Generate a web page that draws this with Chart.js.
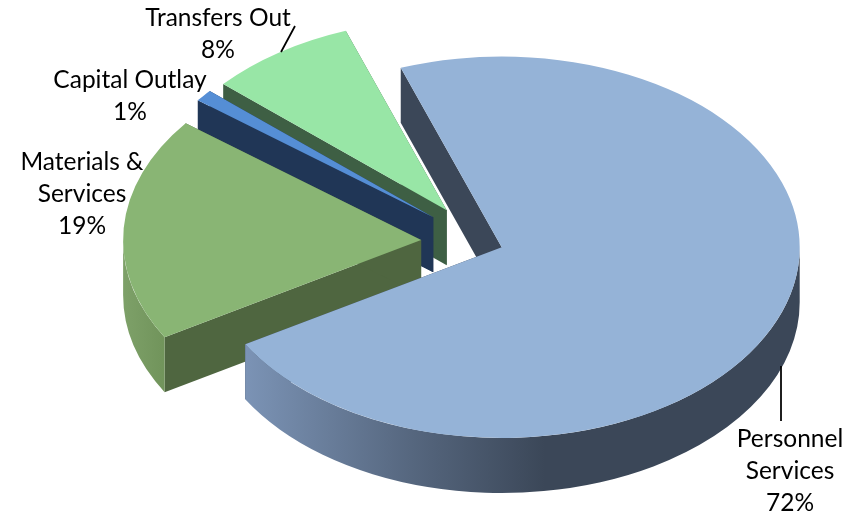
<!DOCTYPE html>
<html>
<head>
<meta charset="utf-8">
<title>Expenditures by category</title>
<script src="https://cdn.jsdelivr.net/npm/chart.js@4"></script>
<style>
    html, body { margin: 0; background: #ffffff; }
    canvas { display: block; }
</style>
</head>
<body>
<canvas id="mychart" width="867" height="516"></canvas>
<script>
// Share of spending per category, going clockwise
const categories = ['Personnel Services', 'Materials & Services', 'Capital Outlay', 'Transfers Out'];
const shares = [72, 19, 1, 8];

// Label lines for each category
const labelLines = [['Personnel', 'Services'], ['Materials &', 'Services'], ['Capital Outlay'], ['Transfers Out']];

const topColors = ['#95b3d7', '#89b574', '#558ed5', '#98e6a6'];
const wallColors = ['#3b4758', '#4f6640', '#203656', '#3e5f44'];

// How far each slice is pulled out of the pie
const explode = [22, 60, 62, 61];

const TILT = 0.64;     // vertical squash of the pie
const DEPTH = 55;      // thickness in px
const paintOrder = [3, 2, 1, 0];  // back to front

// rim shading runs left to right, lighter on the lit side
function rimFill(ctx, i) {
    if (i === 0) {
        const g = ctx.createLinearGradient(246, 0, 545, 0);
        g.addColorStop(0, '#7b93b5');
        g.addColorStop(0.55, '#56677f');
        g.addColorStop(1, '#3b4758');
        return g;
    }
    if (i === 1) {
        const g = ctx.createLinearGradient(125, 0, 170, 0);
        g.addColorStop(0, '#7da068');
        g.addColorStop(1, '#6f9259');
        return g;
    }
    return wallColors[i];
}

function drawWalls(ctx, arc, i) {
    const mid = (arc.startAngle + arc.endAngle) / 2;
    const cx = arc.x + Math.cos(mid) * explode[i];
    const cy = arc.y + Math.sin(mid) * explode[i] * TILT;
    const r = arc.outerRadius;

    // radial faces
    ctx.fillStyle = wallColors[i];
    [arc.startAngle, arc.endAngle].forEach(function (a) {
        const px = cx + Math.cos(a) * r;
        const py = cy + Math.sin(a) * r * TILT;
        ctx.beginPath();
        ctx.moveTo(cx, cy);
        ctx.lineTo(px, py);
        ctx.lineTo(px, py + DEPTH);
        ctx.lineTo(cx, cy + DEPTH);
        ctx.closePath();
        ctx.fill();
    });

    // outer rim, only the part facing the viewer (angles 0 to PI on canvas)
    let from = arc.startAngle;
    const to = Math.min(arc.endAngle, Math.PI);
    if (from < 0) from = 0;
    if (from >= to) return;
    ctx.fillStyle = rimFill(ctx, i);
    ctx.beginPath();
    ctx.ellipse(cx, cy, r, r * TILT, 0, from, to);
    ctx.ellipse(cx, cy + DEPTH, r, r * TILT, 0, to, from, true);
    ctx.closePath();
    ctx.fill();
}

const tiltedSlices = {
    id: 'tiltedSlices',
    beforeDatasetsDraw(chart) {
        const ctx = chart.ctx;
        const arcs = chart.getDatasetMeta(0).data;
        paintOrder.forEach(function (i) {
            const arc = arcs[i];
            const mid = (arc.startAngle + arc.endAngle) / 2;
            drawWalls(ctx, arc, i);
            ctx.save();
            ctx.translate(arc.x, arc.y);
            ctx.scale(1, TILT);
            ctx.translate(-arc.x, -arc.y);
            ctx.translate(Math.cos(mid) * explode[i], Math.sin(mid) * explode[i]);
            arc.draw(ctx);
            ctx.restore();
        });
        return false;
    },
    afterDraw(chart) {
        const ctx = chart.ctx;
        ctx.save();

        // leader lines
        ctx.strokeStyle = '#000000';
        ctx.lineWidth = 1.75;
        ctx.beginPath();
        ctx.moveTo(281, 52);
        ctx.lineTo(295, 26);
        ctx.moveTo(781, 366);
        ctx.lineTo(781, 421);
        ctx.stroke();

        // data labels: name lines, then the percentage
        const spots = [[790, 439], [82, 162], [130, 80], [218, 18]];
        ctx.font = '24.5px Lato, "Open Sans", sans-serif';
        ctx.fillStyle = '#000000';
        ctx.textAlign = 'center';
        ctx.textBaseline = 'middle';
        categories.forEach(function (name, i) {
            const lines = labelLines[i].concat(shares[i] + '%');
            lines.forEach(function (line, n) {
                ctx.fillText(line, spots[i][0], spots[i][1] + n * 32);
            });
        });
        ctx.restore();
    }
};

const ctx = document.getElementById('mychart').getContext('2d');
const myChart = new Chart(ctx, {
    type: 'pie',
    data: {
        labels: categories,
        datasets: [{
            data: shares,
            backgroundColor: topColors,
            borderWidth: 0
        }]
    },
    options: {
        responsive: false,
        animation: false,
        rotation: -19.8,
        radius: 298,
        // puts the pie centre where the exploded slices fit
        layout: { padding: { left: 95, bottom: 31 } },
        plugins: {
            legend: { display: false },
            tooltip: { enabled: false }
        }
    },
    plugins: [tiltedSlices]
});
</script>
</body>
</html>
